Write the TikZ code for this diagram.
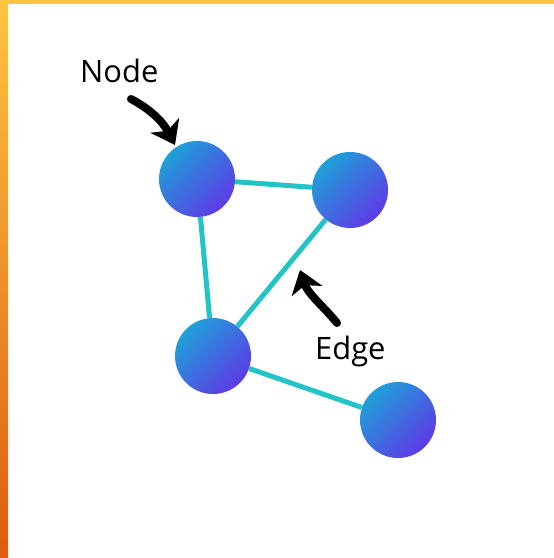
\documentclass[tikz,border=0pt]{standalone}
\usepackage{fontspec}
\setmainfont{Open Sans}
\usetikzlibrary{arrows.meta}
\definecolor{dotblue}{HTML}{1FA0D9}
\definecolor{dotpurple}{HTML}{5E3AE6}
\definecolor{linkteal}{HTML}{22C4C8}
\definecolor{rimyellow}{HTML}{FFC441}
\definecolor{rimorange}{HTML}{DC5C13}
\tikzset{
  vertex/.style={circle,minimum size=76bp,inner sep=0pt,
    top color=dotblue,bottom color=dotpurple,shading angle=45},
  link/.style={linkteal,line width=5bp},
  pointer/.style={line width=8bp,line cap=round,
    -{Stealth[length=22bp,width=32bp,inset=6bp]}},
  tag/.style={font=\fontsize{31}{36}\selectfont,inner sep=0pt,anchor=base west}
}

\begin{document}
\begin{tikzpicture}[x=1bp,y=-1bp]
  \useasboundingbox (0,0) rectangle (554,558);
  % frame on top and left
  \fill[rimyellow] (0,0) rectangle (554,4);
  \shade[top color=rimyellow,bottom color=rimorange] (0,0) rectangle (8,558);

  \node[vertex] (a) at (197,179) {};
  \node[vertex] (b) at (350,190) {};
  \node[vertex] (c) at (213,356) {};
  \node[vertex] (d) at (398,420) {};
  \draw[link] (a) -- (b);
  \draw[link] (a) -- (c);
  \draw[link] (b) -- (c);
  \draw[link] (c) -- (d);

  \node[tag] (nodetag) at (80,83) {Node};
  \node[tag] (edgetag) at (315,359) {Edge};

  % curved pointers
  \coordinate (nodetail) at (131,99);
  \coordinate (nodetip) at (175,145);
  \draw[pointer] (nodetail) .. controls (148,108) and (162,120) .. (nodetip);
  \coordinate (edgetail) at (337,323);
  \coordinate (edgetip) at (300,270);
  \draw[pointer] (edgetail) .. controls (325,308) and (308,294) .. (edgetip);
\end{tikzpicture}
\end{document}
